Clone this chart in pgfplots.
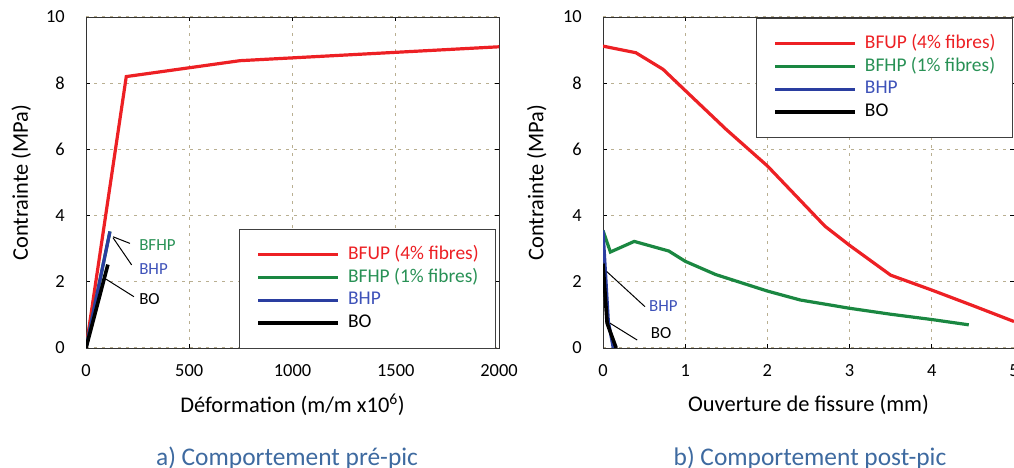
\documentclass[border=0pt]{standalone}
\usepackage{pgfplots}
\pgfplotsset{compat=1.18}
\usepackage{fontspec}
\setmainfont{Carlito}
\definecolor{cred}{RGB}{237,32,36}
\definecolor{cgreen}{RGB}{26,135,65}
\definecolor{cblue}{RGB}{42,62,160}
\definecolor{tgreen}{RGB}{40,145,85}
\definecolor{tblue}{RGB}{62,82,185}
\definecolor{cgrid}{RGB}{185,175,145}
\definecolor{capcol}{RGB}{62,106,160}
\pgfplotsset{
  common/.style={
    scale only axis,
    width=413bp, height=331bp,
    ymin=0, ymax=10, ytick={0,2,...,10},
    grid=major,
    major grid style={cgrid, dash pattern=on 3bp off 5bp, line width=1bp},
    axis line style={black!80, line width=0.9bp},
    tick style={black, line width=0.8bp},
    major tick length=4bp,
    tick align=inside,
    /pgf/number format/assume math mode=true,
    /pgf/number format/1000 sep={},
    tick label style={font=\fontsize{18.5}{22}\selectfont, inner sep=0pt},
    yticklabel style={anchor=east, xshift=-21bp},
    xticklabel style={anchor=north, yshift=-16bp},
    label style={font=\fontsize{22.5}{26}\selectfont},
    xlabel style={at={(axis description cs:0.5,0)}, anchor=center, yshift=-57bp},
    legend cell align=left,
    legend image code/.code={\draw[##1] (0bp,0bp) -- (80bp,0bp);},
    legend style={draw=black!75, line width=0.9bp, fill=white,
      font=\fontsize{19.5}{22}\selectfont,
      nodes={inner sep=0pt, text height=14bp, text depth=5bp},
      inner xsep=17bp, inner ysep=15.8bp, row sep=3.8bp, column sep=8bp},
  },
  red line/.style={cred, line width=3.2bp},
  green line/.style={cgreen, line width=3.2bp},
  blue line/.style={cblue, line width=3.2bp},
  black line/.style={black, line width=3.6bp},
}
\begin{document}
\begin{tikzpicture}
\useasboundingbox (0bp,0bp) rectangle (1014bp,468bp);
% ---------- a) pre-pic ----------
\begin{axis}[common, at={(86bp,120bp)}, anchor=south west,
  xmin=0, xmax=2000, xtick={0,500,...,2000},
  xlabel={Déformation (m/m x10\textsuperscript{6})},
  ylabel={Contrainte (MPa)},
  ylabel style={at={(axis description cs:-0.157,0.5)}, anchor=center},
  legend style={at={(axis description cs:0.993,-0.003)}, anchor=south east},
]
\addplot[red line] coordinates {(0,0) (195,8.2) (745,8.68) (2000,9.1)};
\addlegendentry{\textcolor{cred}{BFUP (4\% fibres)}}
\addplot[green line] coordinates {(0,0) (116,3.52)};
\addlegendentry{\textcolor{tgreen}{BFHP (1\% fibres)}}
\addplot[blue line] coordinates {(0,0) (116,3.52)};
\addlegendentry{\textcolor{tblue}{BHP}}
\addplot[black line] coordinates {(0,0) (106,2.52)};
\addlegendentry{BO}
\draw[black, line width=1bp] (axis cs:131,3.36) -- (axis cs:213,3.16);
\draw[black, line width=1bp] (axis cs:131,3.33) -- (axis cs:221,2.51);
\draw[black, line width=1bp] (axis cs:97,2.08) -- (axis cs:232,1.55);
\node[anchor=west, inner sep=0pt, text=tgreen, font=\fontsize{17}{20}\selectfont] at (axis cs:257,3.11) {BFHP};
\node[anchor=west, inner sep=0pt, text=tblue, font=\fontsize{17}{20}\selectfont] at (axis cs:257,2.39) {BHP};
\node[anchor=west, inner sep=0pt, text=black, font=\fontsize{17}{20}\selectfont] at (axis cs:257,1.48) {BO};
\end{axis}
% ---------- b) post-pic ----------
\begin{axis}[common, at={(603bp,120bp)}, anchor=south west, width=411bp,
  xmin=0, xmax=5, xtick={0,1,...,5},
  xlabel={Ouverture de fissure (mm)},
  ylabel={Contrainte (MPa)},
  ylabel style={at={(axis description cs:-0.161,0.5)}, anchor=center},
  legend style={at={(axis description cs:0.372,0.997)}, anchor=north west},
]
\addplot[red line] coordinates {(0,9.12) (0.4,8.92) (0.73,8.42) (1.0,7.78) (1.5,6.6) (2.0,5.5) (2.7,3.68) (3.0,3.1) (3.5,2.2) (4.0,1.75) (4.5,1.28) (5.0,0.8)};
\addlegendentry{\textcolor{cred}{BFUP (4\% fibres)}}
\addplot[green line] coordinates {(0,3.55) (0.09,2.9) (0.38,3.22) (0.8,2.93) (1.0,2.62) (1.37,2.22) (2.0,1.72) (2.4,1.45) (3.0,1.2) (3.5,1.02) (4.0,0.86) (4.45,0.7)};
\addlegendentry{\textcolor{tgreen}{BFHP (1\% fibres)}}
\addplot[blue line] coordinates {(0,3.55) (0.065,0.8) (0.125,0)};
\addlegendentry{\textcolor{tblue}{BHP}}
\addplot[black line] coordinates {(0,2.55) (0.05,0.75) (0.16,0)};
\addlegendentry{BO}
\draw[black, line width=1bp] (axis cs:0.045,2.31) -- (axis cs:0.51,1.25);
\draw[black, line width=1bp] (axis cs:0.085,0.75) -- (axis cs:0.416,0.24);
\node[anchor=west, inner sep=0pt, text=tblue, font=\fontsize{17}{20}\selectfont] at (axis cs:0.558,1.27) {BHP};
\node[anchor=west, inner sep=0pt, text=black, font=\fontsize{17}{20}\selectfont] at (axis cs:0.58,0.45) {BO};
\end{axis}
% ---------- captions ----------
\node[text=capcol, font=\fontsize{25.5}{28}\selectfont, inner sep=0pt, anchor=base] at (287bp,3bp) {a) Comportement pré-pic};
\node[text=capcol, font=\fontsize{25.5}{28}\selectfont, inner sep=0pt, anchor=base] at (810bp,3bp) {b) Comportement post-pic};
\end{tikzpicture}
\end{document}
